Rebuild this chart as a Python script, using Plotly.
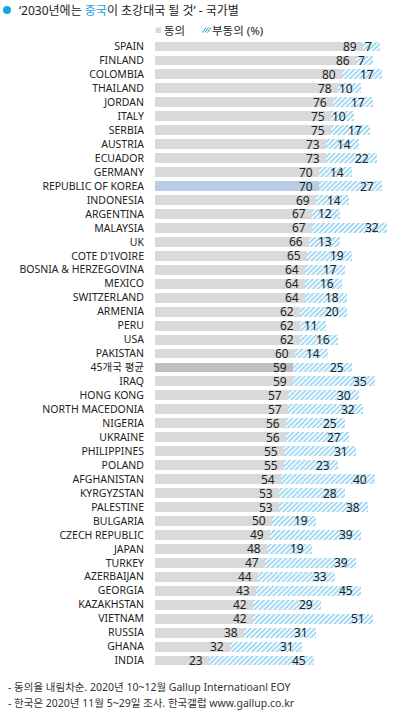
import plotly.graph_objects as go

countries = ["SPAIN", "FINLAND", "COLOMBIA", "THAILAND", "JORDAN", "ITALY", "SERBIA",
             "AUSTRIA", "ECUADOR", "GERMANY", "REPUBLIC OF KOREA", "INDONESIA", "ARGENTINA",
             "MALAYSIA", "UK", "COTE D'IVOIRE", "BOSNIA & HERZEGOVINA", "MEXICO", "SWITZERLAND",
             "ARMENIA", "PERU", "USA", "PAKISTAN", "45개국 평균", "IRAQ", "HONG KONG",
             "NORTH MACEDONIA", "NIGERIA", "UKRAINE", "PHILIPPINES", "POLAND", "AFGHANISTAN",
             "KYRGYZSTAN", "PALESTINE", "BULGARIA", "CZECH REPUBLIC", "JAPAN", "TURKEY",
             "AZERBAIJAN", "GEORGIA", "KAZAKHSTAN", "VIETNAM", "RUSSIA", "GHANA", "INDIA"]
agree = [89, 86, 80, 78, 76, 75, 75, 73, 73, 70, 70, 69, 67, 67, 66, 65, 64, 64, 64,
         62, 62, 62, 60, 59, 59, 57, 57, 56, 56, 55, 55, 54, 53, 53, 50, 49, 48, 47,
         44, 43, 42, 42, 38, 32, 23]
disagree = [7, 7, 17, 10, 17, 10, 17, 14, 22, 14, 27, 14, 12, 32, 13, 19, 17, 16, 18,
            20, 11, 16, 14, 25, 35, 30, 32, 25, 27, 31, 23, 40, 28, 38, 19, 39, 19, 39,
            33, 45, 29, 51, 31, 31, 45]
series_names = ["동의", "부동의 (%)"]

W, H = 397, 711
ML, MR, MT, MB = 155, 8, 36, 40
PW, PH = W - ML - MR, H - MT - MB


def px(x):
    return (x - ML) / PW


def py(y):
    return (H - MB - y) / PH


FONT = "Noto Sans, Noto Sans CJK KR, sans-serif"
BLUE = "#1ba1e6"
TXT = "#222222"

agree_colors = []
for c in countries:
    if c == "REPUBLIC OF KOREA":
        agree_colors.append("#b8cce4")
    elif c == "45개국 평균":
        agree_colors.append("#bfbfbf")
    else:
        agree_colors.append("#d9d9d9")

fig = go.Figure()
fig.add_trace(go.Bar(
    y=countries, x=agree, orientation="h", name=series_names[0],
    marker=dict(color=agree_colors, line=dict(width=0)), showlegend=False,
))
fig.add_trace(go.Bar(
    y=countries, x=disagree, orientation="h", name=series_names[1],
    marker=dict(color="white", line=dict(width=0),
                pattern=dict(shape="/", fgcolor=BLUE, bgcolor="white", size=3.5, solidity=0.45)),
    showlegend=False,
))

annotations = []
for c, a, d in zip(countries, agree, disagree):
    annotations.append(dict(x=a, y=c, xref="x", yref="y", text=str(a), showarrow=False,
                            xanchor="right", xshift=-4, font=dict(size=12, color=TXT, family=FONT)))
    annotations.append(dict(x=a + d, y=c, xref="x", yref="y", text=str(d), showarrow=False,
                            xanchor="right", xshift=-6, font=dict(size=12, color=TXT, family=FONT)))

# title
annotations.append(dict(
    x=px(17), y=py(10), xref="paper", yref="paper", xanchor="left", yanchor="middle",
    showarrow=False,
    text="‘2030년에는 <span style='color:%s'>중국</span>이 초강대국 될 것’ - 국가별" % BLUE,
    font=dict(size=12, color=TXT, family=FONT)))
# legend texts
annotations.append(dict(x=px(162), y=py(30.5), xref="paper", yref="paper", xanchor="left",
                        yanchor="middle", showarrow=False, text=series_names[0],
                        font=dict(size=11.5, color=TXT, family=FONT)))
annotations.append(dict(x=px(209.5), y=py(30.5), xref="paper", yref="paper", xanchor="left",
                        yanchor="middle", showarrow=False, text=series_names[1],
                        font=dict(size=11.5, color=TXT, family=FONT)))
# footnotes
annotations.append(dict(x=px(6), y=py(687), xref="paper", yref="paper", xanchor="left",
                        yanchor="middle", showarrow=False,
                        text="- 동의율 내림차순. 2020년 10~12월 Gallup Internatioanl EOY",
                        font=dict(size=10.5, color="#333333", family=FONT)))
annotations.append(dict(x=px(6), y=py(703), xref="paper", yref="paper", xanchor="left",
                        yanchor="middle", showarrow=False,
                        text="- 한국은 2020년 11월 5~29일 조사. 한국갤럽 www.gallup.co.kr",
                        font=dict(size=10.5, color="#333333", family=FONT)))

shapes = [
    dict(type="circle", xref="paper", yref="paper", x0=px(3), x1=px(11), y0=py(6), y1=py(14),
         fillcolor=BLUE, line=dict(width=0)),
    dict(type="rect", xref="paper", yref="paper", x0=px(155.5), x1=px(161), y0=py(27.5), y1=py(33),
         fillcolor="#d9d9d9", line=dict(width=0)),
]
for k in range(3):
    off = k * 2.5
    shapes.append(dict(type="line", xref="paper", yref="paper",
                       x0=px(202.5 + off), y0=py(32.5), x1=px(204.5 + off + 1.5), y1=py(27.5),
                       line=dict(color=BLUE, width=1)))

fig.update_layout(
    width=W, height=H, barmode="stack", bargap=0.29,
    margin=dict(l=ML, r=MR, t=MT, b=MB, pad=0),
    paper_bgcolor="white", plot_bgcolor="white",
    font=dict(family=FONT, color=TXT),
    xaxis=dict(range=[0, 100], visible=False, fixedrange=True),
    yaxis=dict(categoryorder="array", categoryarray=countries, autorange="reversed",
               showgrid=False, zeroline=False, showline=False, ticks="",
               ticklabelstandoff=10, tickfont=dict(size=10.5, color=TXT, family=FONT)),
    annotations=annotations, shapes=shapes, showlegend=False,
)

fig.write_html("out.html", config={"displayModeBar": False},
               post_script="document.body.style.margin='0';document.body.style.overflow='hidden';")
